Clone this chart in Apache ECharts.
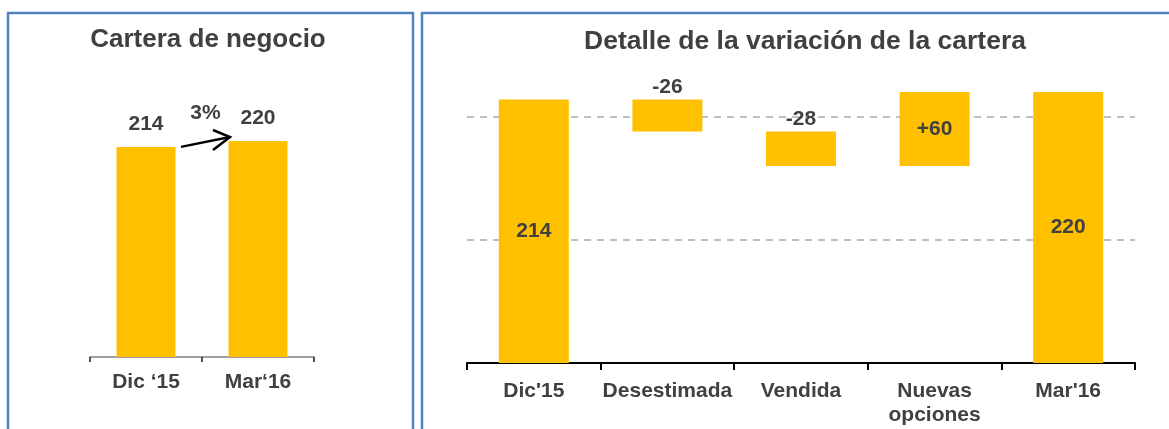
<!DOCTYPE html>
<html>
<head>
<meta charset="utf-8">
<title>Cartera de negocio</title>
<script src="https://cdn.jsdelivr.net/npm/echarts@6/dist/echarts.min.js"></script>
<style>
  html, body { margin: 0; padding: 0; background: #fff; }
  #chart { width: 1169px; height: 429px; }
</style>
</head>
<body>
<div id="chart"></div>
<script>
// panel izquierdo: cartera de negocio
const carteraCats = ['Dic ‘15', 'Mar‘16'];
const carteraValues = [214, 220];
const crecimiento = '3%';

// panel derecho: detalle de la variación
const detalleCats = ["Dic'15", 'Desestimada', 'Vendida', 'Nuevas\nopciones', "Mar'16"];
const detalleValues = [214, -26, -28, 60, 220];
const detalleTipo = ['total', 'delta', 'delta', 'delta', 'total'];
const detalleTicks = [0, 100, 200];

const AMARILLO = '#FFC000';
const TEXTO = '#404040';
const BORDE = '#5282C2';
const FONT = '"Liberation Sans", Arial, sans-serif';

// base invisible + barra visible para el waterfall
let acumulado = 0;
const baseData = [];
const barData = [];
detalleValues.forEach((v, i) => {
  let label;
  if (detalleTipo[i] === 'total') {
    baseData.push(0);
    label = { show: true, position: 'inside', formatter: String(v) };
    acumulado = v;
  } else {
    baseData.push(v < 0 ? acumulado + v : acumulado);
    label = v < 0
      ? { show: true, position: 'top', distance: 2, formatter: String(v) }
      : { show: true, position: 'inside', formatter: '+' + v };
    acumulado += v;
  }
  barData.push({ value: Math.abs(v), label });
});

const yMax = Math.max(...carteraValues);

const chart = echarts.init(document.getElementById('chart'));

const labelText = { color: TEXTO, fontWeight: 'bold', fontSize: 21, fontFamily: FONT };

chart.setOption({
  animation: false,
  textStyle: { fontFamily: FONT },
  grid: [
    { left: 90, top: 141, width: 224, height: 216, outerBoundsMode: 'none', containLabel: false },
    { left: 467, top: 92, width: 668, height: 271, outerBoundsMode: 'none', containLabel: false }
  ],
  xAxis: [
    {
      type: 'category', gridIndex: 0, data: carteraCats,
      axisLine: { show: true, lineStyle: { color: '#808080', width: 1.5 } },
      axisTick: { show: true, length: 5, lineStyle: { color: '#222', width: 1.5 } },
      axisLabel: { ...labelText, margin: 13, lineHeight: 24 }
    },
    {
      type: 'category', gridIndex: 1, data: detalleCats,
      axisLine: { show: true, lineStyle: { color: '#000', width: 2 } },
      axisTick: { show: true, length: 7, lineStyle: { color: '#000', width: 2 } },
      axisLabel: { ...labelText, margin: 16, lineHeight: 24, interval: 0 }
    }
  ],
  yAxis: [
    { type: 'value', gridIndex: 0, min: 0, max: yMax, show: false, splitLine: { show: false } },
    {
      type: 'value', gridIndex: 1, min: detalleTicks[0], max: yMax,
      interval: detalleTicks[1] - detalleTicks[0],
      axisLine: { show: false }, axisTick: { show: false }, axisLabel: { show: false },
      splitLine: {
        show: true, showMinLine: false, showMaxLine: false,
        lineStyle: { color: '#BFBFBF', width: 2, type: [7, 6] }
      }
    }
  ],
  series: [
    {
      type: 'bar', xAxisIndex: 0, yAxisIndex: 0, data: carteraValues,
      barWidth: 59, itemStyle: { color: AMARILLO },
      label: { show: true, position: 'top', distance: 12, ...labelText }
    },
    {
      type: 'bar', xAxisIndex: 1, yAxisIndex: 1, stack: 'w', data: baseData,
      barWidth: 70, silent: true,
      itemStyle: { color: 'transparent' }, label: { show: false }
    },
    {
      type: 'bar', xAxisIndex: 1, yAxisIndex: 1, stack: 'w', data: barData,
      barWidth: 70, itemStyle: { color: AMARILLO },
      label: { ...labelText }
    }
  ]
});

// flecha de crecimiento entre las dos barras
const p0 = chart.convertToPixel({ gridIndex: 0 }, [0, carteraValues[0]]);
const p1 = chart.convertToPixel({ gridIndex: 0 }, [1, carteraValues[1]]);
const x0 = p0[0] + 35, y0 = p0[1];
const x1 = p1[0] - 28, y1 = p1[1] - 4;

chart.setOption({
  graphic: [
    // marcos de los paneles
    { type: 'rect', shape: { x: 8, y: 13, width: 405, height: 440 }, style: { fill: 'none', stroke: BORDE, lineWidth: 2.5 }, silent: true },
    { type: 'rect', shape: { x: 422, y: 13, width: 800, height: 440 }, style: { fill: 'none', stroke: BORDE, lineWidth: 2.5 }, silent: true },
    // titulos
    { type: 'text', x: 208, y: 40, style: { text: 'Cartera de negocio', align: 'center', verticalAlign: 'middle', fill: TEXTO, font: 'bold 26px ' + FONT } },
    { type: 'text', x: 805, y: 42, style: { text: 'Detalle de la variación de la cartera', align: 'center', verticalAlign: 'middle', fill: TEXTO, font: 'bold 26.5px ' + FONT } },
    // flecha
    { type: 'line', shape: { x1: x0, y1: y0, x2: x1, y2: y1 }, style: { stroke: '#000', lineWidth: 2.5 } },
    { type: 'polyline', shape: { points: [[x1 - 17, y1 - 7], [x1, y1], [x1 - 17, y1 + 13]] }, style: { stroke: '#000', lineWidth: 2.5, fill: 'none' } },
    { type: 'text', x: (x0 + x1) / 2, y: 113, style: { text: crecimiento, align: 'center', verticalAlign: 'middle', fill: TEXTO, font: 'bold 21px ' + FONT } }
  ]
});
</script>
</body>
</html>
